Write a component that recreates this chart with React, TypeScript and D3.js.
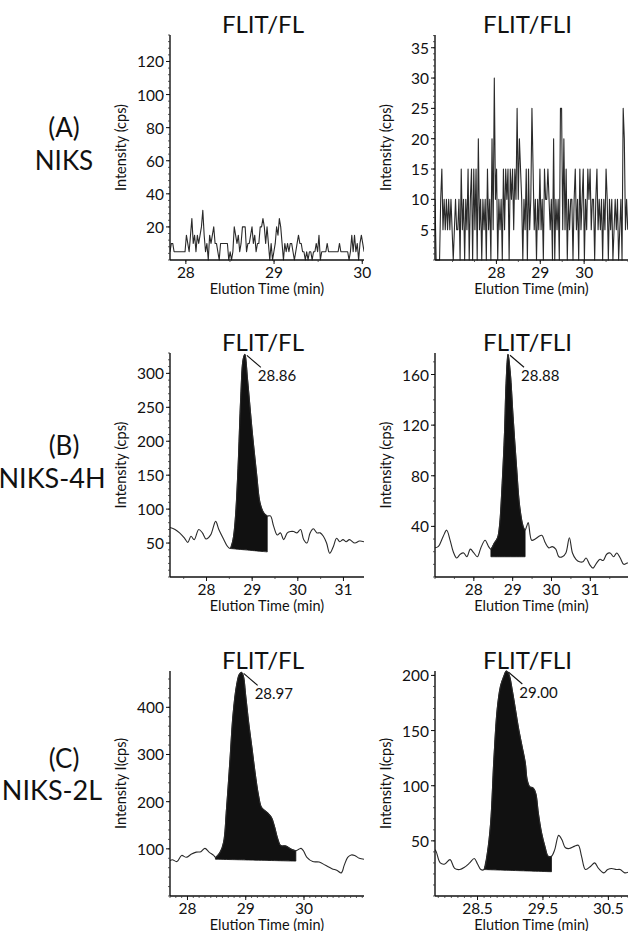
import * as d3 from "d3";

const FONT = "Lato, 'Open Sans', sans-serif";

const rowTags = ["(A)", "(B)", "(C)"];
const rowNames = ["NIKS", "NIKS-4H", "NIKS-2L"];
const columnTitles = ["FLIT/FL", "FLIT/FLI"];
const yTitles = ["Intensity (cps)", "Intensity (cps)", "Intensity I(cps)"];
const xTitle = "Elution Time (min)";
const peakLabels = ["28.86", "28.88", "28.97", "29.00"];

// (A) NIKS, FLIT/FL: noise only, fixed sampling interval
const niksFlStart = 27.82;
const niksFlStep = 0.0155;
const niksFlCps = [
  5, 10, 10, 5, 5, 5, 5, 5, 5, 5, 5, 5, 15, 10, 5, 15, 25, 10, 15, 5, 15, 10, 15, 20, 30, 15, 5, 10, 0, 15,
  10, 15, 20, 10, 10, 5, 0, 10, 10, 10, 10, 10, 10, 0, 5, 0, 5, 20, 15, 10, 15, 5, 10, 20, 20, 20, 5, 10, 10, 15,
  20, 10, 15, 5, 10, 10, 20, 20, 25, 20, 10, 20, 10, 0, 10, 0, 5, 10, 20, 15, 25, 20, 10, 0, 10, 5, 10, 5, 10, 10,
  5, 0, 5, 10, 15, 10, 10, 5, 5, 0, 5, 0, 5, 5, 0, 5, 5, 10, 5, 15, 0, 5, 5, 5, 5, 10, 5, 5, 5, 5,
  5, 5, 5, 5, 10, 5, 5, 5, 5, 5, 5, 0, 5, 15, 5, 15, 5, 10, 0, 10, 15, 10, 5,
];

// (A) NIKS, FLIT/FLI
const niksFliStart = 26.6;
const niksFliStep = 0.026;
const niksFliCps = [
  10, 0, 0, 0, 0, 10, 15, 5, 10, 5, 10, 5, 10, 5, 10, 5, 0, 5, 10, 5, 5, 10, 0, 15, 5, 10, 0, 10, 5, 15,
  0, 10, 15, 0, 15, 5, 15, 0, 20, 5, 10, 0, 10, 5, 10, 0, 15, 5, 10, 0, 20, 5, 30, 10, 15, 0, 10, 5, 10, 0,
  15, 5, 15, 10, 15, 0, 15, 10, 15, 5, 15, 10, 25, 10, 20, 15, 10, 0, 10, 5, 15, 0, 15, 5, 10, 25, 15, 5, 10, 0,
  10, 5, 15, 5, 10, 0, 15, 10, 10, 15, 10, 5, 10, 0, 20, 0, 10, 5, 10, 0, 25, 25, 5, 20, 5, 15, 0, 10, 5, 10,
  10, 0, 10, 15, 5, 10, 0, 15, 5, 10, 15, 0, 10, 5, 15, 10, 15, 5, 10, 10, 0, 10, 15, 5, 10, 5, 10, 0, 10, 5,
  15, 10, 0, 10, 5, 10, 0, 5, 10, 5, 10, 0, 5, 10, 0, 25, 20, 5, 10, 5,
];

// (B) NIKS-4H, FLIT/FL
const h4FlTime = [
  27.2, 27.31, 27.41, 27.52, 27.59, 27.66, 27.73, 27.83, 27.91, 27.99, 28.09, 28.2, 28.27, 28.38, 28.46, 28.52,
  28.58, 28.63, 28.69, 28.75, 28.8, 28.84, 28.9, 29.0, 29.1, 29.17, 29.25, 29.33, 29.4, 29.47, 29.55, 29.62,
  29.69, 29.77, 29.84, 29.91, 29.98, 30.06, 30.13, 30.2, 30.27, 30.34, 30.42, 30.49, 30.56, 30.63, 30.7, 30.78,
  30.85, 30.92, 30.99, 31.06, 31.13, 31.25, 31.35, 31.45,
];
const h4FlCps = [
  73, 70, 65, 57, 51, 60, 55, 70, 65, 56, 62, 82, 70, 55, 45, 42, 55, 85, 160, 265, 320, 328, 290, 215, 150, 110,
  95, 90, 90, 75, 62, 65, 55, 65, 67, 67, 65, 70, 55, 50, 65, 71, 65, 65, 60, 50, 35, 45, 57, 52, 55, 52, 55, 50,
  53, 52,
];

// (B) NIKS-4H, FLIT/FLI
const h4FliTime = [
  26.97, 27.08, 27.21, 27.3, 27.39, 27.47, 27.56, 27.65, 27.74, 27.82, 27.91, 28.0, 28.09, 28.18, 28.29, 28.38,
  28.44, 28.53, 28.61, 28.66, 28.73, 28.79, 28.83, 28.88, 28.94, 29.01, 29.1, 29.18, 29.27, 29.32, 29.36, 29.4,
  29.49, 29.58, 29.67, 29.75, 29.84, 29.93, 30.02, 30.11, 30.19, 30.28, 30.37, 30.46, 30.54, 30.63, 30.72, 30.81,
  30.89, 30.98, 31.07, 31.16, 31.25, 31.33, 31.42, 31.51, 31.6, 31.68, 31.77, 31.86, 31.95, 32.03,
];
const h4FliCps = [
  23, 24, 32, 37, 29, 20, 15, 18, 19, 16, 22, 19, 16, 23, 29, 24, 22, 27, 31, 40, 74, 114, 153, 176, 161, 127,
  87, 56, 40, 37, 40, 43, 29, 30, 32, 33, 27, 23, 24, 22, 16, 16, 19, 31, 19, 14, 12, 12, 15, 10, 7, 11, 14, 13,
  18, 19, 16, 19, 15, 10, 11, 11,
];

// (C) NIKS-2L, FLIT/FL
const l2FlTime = [
  27.7, 27.74, 27.82, 27.9, 27.98, 28.07, 28.15, 28.23, 28.3, 28.37, 28.45, 28.48, 28.56, 28.62, 28.67, 28.73,
  28.78, 28.84, 28.89, 28.93, 28.96, 29.0, 29.05, 29.11, 29.16, 29.22, 29.27, 29.33, 29.38, 29.44, 29.49, 29.55,
  29.6, 29.69, 29.77, 29.86, 29.91, 29.95, 29.99, 30.05, 30.15, 30.26, 30.37, 30.48, 30.57, 30.64, 30.69, 30.75,
  30.81, 30.87, 30.95, 31.03,
];
const l2FlCps = [
  75, 77, 73, 86, 82, 89, 93, 94, 101, 93, 86, 82, 93, 114, 185, 290, 382, 445, 470, 474, 466, 424, 368, 311, 262,
  213, 188, 181, 176, 167, 149, 121, 107, 106, 100, 96, 99, 101, 96, 82, 73, 72, 65, 58, 54, 49, 65, 82, 87, 86,
  80, 78,
];

// (C) NIKS-2L, FLIT/FLI
const l2FliTime = [
  27.85, 27.87, 27.93, 28.0, 28.08, 28.15, 28.23, 28.3, 28.38, 28.45, 28.5, 28.55, 28.6, 28.65, 28.7, 28.75, 28.8,
  28.85, 28.9, 28.94, 28.98, 29.03, 29.08, 29.13, 29.18, 29.23, 29.26, 29.3, 29.35, 29.39, 29.43, 29.48, 29.53,
  29.58, 29.63, 29.68, 29.74, 29.79, 29.84, 29.9, 29.98, 30.04, 30.09, 30.15, 30.23, 30.29, 30.35, 30.43, 30.49,
  30.55, 30.62, 30.68, 30.75, 30.82,
];
const l2FliCps = [
  42, 40, 30, 29, 33, 25, 24, 26, 30, 34, 29, 24, 24, 39, 66, 124, 169, 190, 199, 204, 201, 187, 169, 151, 136,
  121, 105, 99, 98, 93, 75, 57, 45, 36, 36, 42, 55, 51, 44, 43, 45, 46, 36, 24, 27, 30, 25, 21, 24, 25, 24, 24,
  21, 22,
];

// integrated peak windows: [start, end, baseline at start, baseline at end]
const h4FlPeak = [28.52, 29.33, 42, 37];
const h4FliPeak = [28.44, 29.32, 16, 16];
const l2FlPeak = [28.48, 29.86, 78, 74];
const l2FliPeak = [28.6, 29.63, 24, 22];

type Panel = {
  title: string;
  yTitle: string;
  x0: number;
  x1: number;
  yTop: number;
  yBot: number;
  xDomain: [number, number];
  yDomain: [number, number];
  xTicks: number[];
  xMinor: number;
  yTicks: number[];
  yMinor: number;
  times: number[];
  cps: number[];
  smooth: boolean;
  peak?: number[];
  peakLabel?: string;
};

const sampled = (start: number, step: number, n: number) => d3.range(n).map((i) => start + i * step);

const LEFT = [170, 364];
const RIGHT = [435, 628];
const ROWS = [
  { top: 35, bot: 260 },
  { top: 353, bot: 577 },
  { top: 671, bot: 896 },
];

const panels: Panel[] = [
  {
    title: columnTitles[0], yTitle: yTitles[0], x0: LEFT[0], x1: LEFT[1], yTop: ROWS[0].top, yBot: ROWS[0].bot,
    xDomain: [27.82, 30.02], yDomain: [0, 136], xTicks: [28, 29, 30], xMinor: 0.5,
    yTicks: [20, 40, 60, 80, 100, 120], yMinor: 4,
    times: sampled(niksFlStart, niksFlStep, niksFlCps.length), cps: niksFlCps, smooth: false,
  },
  {
    title: columnTitles[1], yTitle: yTitles[0], x0: RIGHT[0], x1: RIGHT[1], yTop: ROWS[0].top, yBot: ROWS[0].bot,
    xDomain: [26.6, 31.0], yDomain: [0, 37.1], xTicks: [28, 29, 30], xMinor: 0.5,
    yTicks: [5, 10, 15, 20, 25, 30, 35], yMinor: 1,
    times: sampled(niksFliStart, niksFliStep, niksFliCps.length), cps: niksFliCps, smooth: false,
  },
  {
    title: columnTitles[0], yTitle: yTitles[1], x0: LEFT[0], x1: LEFT[1], yTop: ROWS[1].top, yBot: ROWS[1].bot,
    xDomain: [27.2, 31.45], yDomain: [0, 330], xTicks: [28, 29, 30, 31], xMinor: 0.5,
    yTicks: [50, 100, 150, 200, 250, 300], yMinor: 10,
    times: h4FlTime, cps: h4FlCps, smooth: true, peak: h4FlPeak, peakLabel: peakLabels[0],
  },
  {
    title: columnTitles[1], yTitle: yTitles[1], x0: RIGHT[0], x1: RIGHT[1], yTop: ROWS[1].top, yBot: ROWS[1].bot,
    xDomain: [27.0, 31.97], yDomain: [0, 177], xTicks: [28, 29, 30, 31], xMinor: 0.5,
    yTicks: [40, 80, 120, 160], yMinor: 10,
    times: h4FliTime, cps: h4FliCps, smooth: true, peak: h4FliPeak, peakLabel: peakLabels[1],
  },
  {
    title: columnTitles[0], yTitle: yTitles[2], x0: LEFT[0], x1: LEFT[1], yTop: ROWS[2].top, yBot: ROWS[2].bot,
    xDomain: [27.7, 31.03], yDomain: [0, 477], xTicks: [28, 29, 30], xMinor: 0.1,
    yTicks: [100, 200, 300, 400], yMinor: 20,
    times: l2FlTime, cps: l2FlCps, smooth: true, peak: l2FlPeak, peakLabel: peakLabels[2],
  },
  {
    title: columnTitles[1], yTitle: yTitles[2], x0: RIGHT[0], x1: RIGHT[1], yTop: ROWS[2].top, yBot: ROWS[2].bot,
    xDomain: [27.85, 30.8], yDomain: [0, 204], xTicks: [28.5, 29.5, 30.5], xMinor: 0.1,
    yTicks: [50, 100, 150, 200], yMinor: 10,
    times: l2FliTime, cps: l2FliCps, smooth: true, peak: l2FliPeak, peakLabel: peakLabels[3],
  },
];

const minorTicks = (domain: [number, number], step: number) =>
  d3.range(Math.ceil(domain[0] / step) * step, domain[1] + 1e-9, step);

const ChromPanel = ({ p, id }: { p: Panel; id: string }) => {
  const x = d3.scaleLinear().domain(p.xDomain).range([p.x0, p.x1]);
  const y = d3.scaleLinear().domain(p.yDomain).range([p.yBot, p.yTop]);
  const pts: [number, number][] = p.times.map((t, i) => [t, p.cps[i]]);
  const curve = p.smooth ? d3.curveCatmullRom.alpha(0.5) : d3.curveLinear;

  const line = d3
    .line<[number, number]>()
    .x((d) => x(d[0]))
    .y((d) => y(d[1]))
    .curve(curve);

  let areaPath: string | null = null;
  if (p.peak) {
    const [t0, t1, b0, b1] = p.peak;
    const base = d3.scaleLinear().domain([t0, t1]).range([b0, b1]);
    const inside = pts.filter((d) => d[0] >= t0 - 1e-9 && d[0] <= t1 + 1e-9);
    areaPath = d3
      .area<[number, number]>()
      .x((d) => x(d[0]))
      .y0((d) => y(base(d[0])))
      .y1((d) => y(d[1]))
      .curve(curve)(inside);
  }

  const top = d3.maxIndex(p.cps);
  const apexX = x(p.times[top]);
  const apexY = y(p.cps[top]);
  const cx = (p.x0 + p.x1) / 2;
  const cy = (p.yTop + p.yBot) / 2;

  return (
    <g>
      <defs>
        <clipPath id={id}>
          <rect x={p.x0} y={0} width={p.x1 - p.x0} height={p.yBot + 1} />
        </clipPath>
      </defs>

      {/* Title */}
      <text x={cx - 4} y={p.yTop - 2} textAnchor="middle" fontSize={24} fontFamily={FONT} fill="#111">
        {p.title}
      </text>

      {/* Peak fill + trace */}
      <g clipPath={`url(#${id})`}>
        {areaPath && <path d={areaPath} fill="#111" stroke="#111" strokeWidth={0.8} />}
        <path d={line(pts) ?? ""} fill="none" stroke="#2a2a2a" strokeWidth={1.1} strokeLinejoin="round" />
      </g>

      {/* Peak annotation */}
      {p.peakLabel && (
        <>
          <line x1={apexX + 2} y1={apexY + 1} x2={apexX + 16} y2={apexY + 13} stroke="#111" strokeWidth={1.1} />
          <text x={apexX + 13} y={apexY + 27} fontSize={15} fontFamily={FONT} fill="#111">
            {p.peakLabel}
          </text>
        </>
      )}

      {/* Y axis */}
      <line x1={p.x0} y1={p.yTop} x2={p.x0} y2={p.yBot} stroke="#111" strokeWidth={1.4} />
      {minorTicks(p.yDomain, p.yMinor).map((v) => (
        <line key={`ym${v}`} x1={p.x0 - 2} x2={p.x0} y1={y(v)} y2={y(v)} stroke="#333" strokeWidth={0.8} />
      ))}
      {p.yTicks.map((v) => (
        <g key={`y${v}`}>
          <line x1={p.x0 - 4} x2={p.x0} y1={y(v)} y2={y(v)} stroke="#111" strokeWidth={1} />
          <text
            x={p.x0 - 6}
            y={y(v)}
            textAnchor="end"
            dominantBaseline="central"
            fontSize={15.5}
            fontFamily={FONT}
            fill="#111"
          >
            {v}
          </text>
        </g>
      ))}
      <text
        transform={`translate(${p.x0 - 44},${cy}) rotate(-90)`}
        textAnchor="middle"
        fontSize={14.5}
        fontFamily={FONT}
        fill="#111"
      >
        {p.yTitle}
      </text>

      {/* X axis */}
      <line x1={p.x0} y1={p.yBot} x2={p.x1} y2={p.yBot} stroke="#111" strokeWidth={1.4} />
      {minorTicks(p.xDomain, p.xMinor).map((v) => (
        <line key={`xm${v}`} x1={x(v)} x2={x(v)} y1={p.yBot} y2={p.yBot + 2} stroke="#333" strokeWidth={0.8} />
      ))}
      {p.xTicks.map((v) => (
        <g key={`x${v}`}>
          <line x1={x(v)} x2={x(v)} y1={p.yBot} y2={p.yBot + 4} stroke="#111" strokeWidth={1} />
          <text x={x(v)} y={p.yBot + 18} textAnchor="middle" fontSize={15.5} fontFamily={FONT} fill="#111">
            {v}
          </text>
        </g>
      ))}
      <text x={cx} y={p.yBot + 34} textAnchor="middle" fontSize={14.5} fontFamily={FONT} fill="#111">
        {xTitle}
      </text>
    </g>
  );
};

const App = () => {
  const rowLabelY = [
    [137, 170],
    [455, 488],
    [768, 800],
  ];
  const nameX = [64, 52, 52];
  return (
    <svg
      width={628}
      height={931}
      style={{ position: "absolute", left: 0, top: 0, background: "#fff" }}
    >
      {rowTags.map((tag, i) => (
        <g key={tag}>
          <text x={64} y={rowLabelY[i][0]} textAnchor="middle" fontSize={26} fontFamily={FONT} fill="#111">
            {tag}
          </text>
          <text
            x={nameX[i]}
            y={rowLabelY[i][1]}
            textAnchor="middle"
            fontSize={i === 0 ? 26 : 27}
            fontFamily={FONT}
            fill="#111"
          >
            {rowNames[i]}
          </text>
        </g>
      ))}
      {panels.map((p, i) => (
        <ChromPanel key={i} p={p} id={`clip${i}`} />
      ))}
    </svg>
  );
};

export default App;
